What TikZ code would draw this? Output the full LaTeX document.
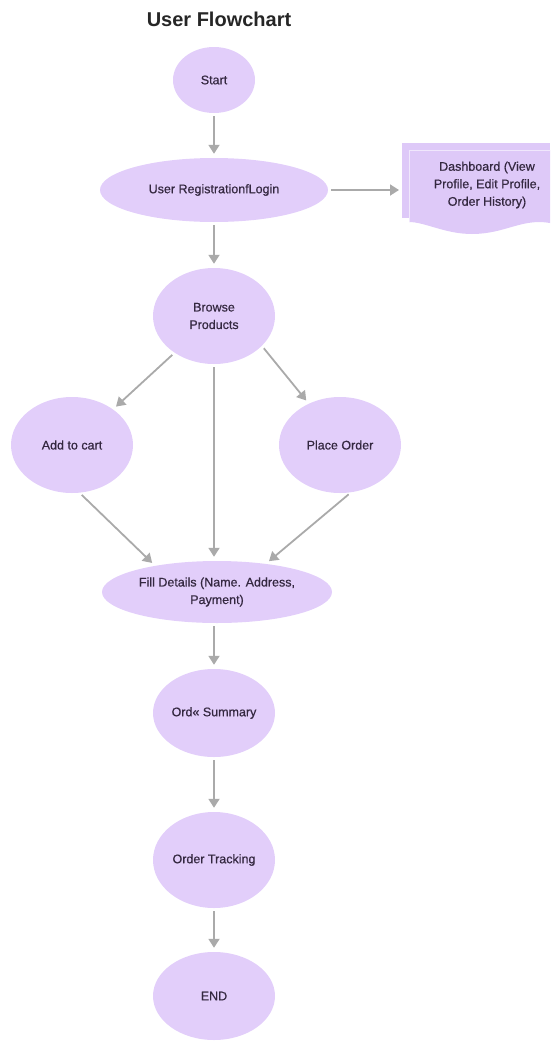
\documentclass[tikz,border=0pt]{standalone}
\usepackage{fontspec}
\setmainfont{Liberation Sans}
\newfontfamily\labelfont[FakeBold=0.6]{Liberation Sans}
\usetikzlibrary{shapes.geometric,arrows.meta}
\definecolor{lav}{RGB}{226,206,250}
\definecolor{lavdoc}{RGB}{222,201,248}
\definecolor{ink}{RGB}{52,40,64}
\definecolor{arrowgray}{RGB}{170,170,170}
\tikzset{
  blob/.style={ellipse, fill=lav, draw=none, inner sep=0pt, align=center,
    text=ink, font=\labelfont\fontsize{12.5}{17.5}\selectfont},
  arr/.style={draw=arrowgray, line width=1.8pt,
    -{Triangle[width=11pt,length=9pt]}, shorten <=3pt, shorten >=4pt},
}
\begin{document}
\begin{tikzpicture}[x=1pt,y=-1pt]
\useasboundingbox (0,0) rectangle (550,1044);

% title
\node[font=\bfseries\fontsize{20}{24}\selectfont, text=black!85] (title) at (219,19) {User Flowchart};

% main flow
\node[blob, minimum width=82pt, minimum height=66pt] (start) at (214,80) {Start};
\node[blob, minimum width=228pt, minimum height=64pt] (reg) at (214,190) {User RegistrationfLogin};
\node[blob, minimum width=122pt, minimum height=96pt] (browse) at (214,316) {Browse\\Products};
\node[blob, minimum width=122pt, minimum height=96pt] (add) at (72,445) {Add to cart};
\node[blob, minimum width=122pt, minimum height=96pt] (place) at (340,445) {Place Order};
\node[blob, minimum width=230pt, minimum height=62pt] (fill) at (217,592) {Fill Details (Name. Address,\\Payment)};
\node[blob, minimum width=122pt, minimum height=88pt] (summary) at (214,713) {Ord« Summary};
\node[blob, minimum width=122pt, minimum height=96pt] (tracking) at (214,860) {Order Tracking};
\node[blob, minimum width=122pt, minimum height=88pt] (end) at (214,996) {END};

% dashboard: stacked document sheets
\fill[lavdoc] (402,143) rectangle (550,218);
\fill[lavdoc]
  (409,150) -- (550,150) -- (550,223)
  .. controls (522,218) and (505,234) .. (472,234)
  .. controls (445,234) and (425,222) .. (409,222) -- cycle;
\draw[white!55!lavdoc, line width=1pt] (409,222) -- (409,150) -- (550,150);
\node[align=center, text=ink, font=\labelfont\fontsize{12.5}{17.5}\selectfont, inner sep=0pt]
  (dash) at (487,185) {Dashboard (View\\Profile, Edit Profile,\\Order History)};
\coordinate (dashin) at (403,190);

% connectors
\draw[arr] (start) -- (reg);
\draw[arr] (reg) -- (dashin);
\draw[arr] (reg) -- (browse);
\draw[arr] (browse.223) -- (add.41);
\draw[arr] (browse.-32) -- (place.127);
\draw[arr] (browse.south) -- (browse.south |- fill.north);
\draw[arr] (add.-81) -- (fill.157);
\draw[arr] (place.-77) -- (fill.30);
\draw[arr] (summary.north |- fill.south) -- (summary.north);
\draw[arr] (summary) -- (tracking);
\draw[arr] (tracking) -- (end);
\end{tikzpicture}
\end{document}
